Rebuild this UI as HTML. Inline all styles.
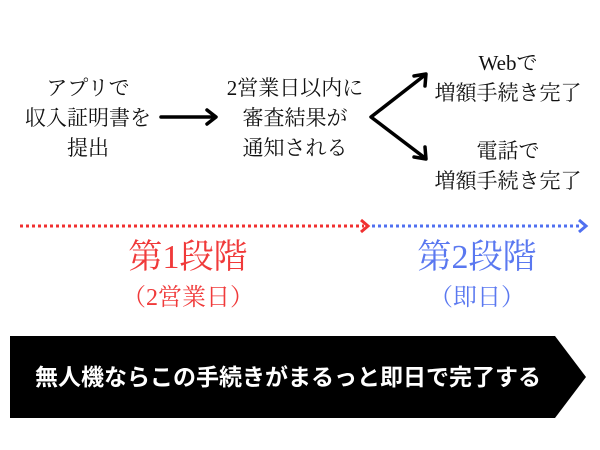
<!DOCTYPE html>
<html><head><meta charset="utf-8"><style>
body{margin:0;width:600px;height:450px;background:#fff;position:relative;overflow:hidden;font-family:"Liberation Serif","Noto Serif CJK JP","Noto Serif CJK SC",serif;}
.t{position:absolute;text-align:center;white-space:nowrap;font-size:21px;line-height:30px;color:#111;transform:translateX(-50%);}
</style></head><body>
<div class="t" style="left:88px;top:73px;">アプリで<br>収入証明書を<br>提出</div>
<div class="t" style="left:295px;top:73px;">2営業日以内に<br>審査結果が<br>通知される</div>
<div class="t" style="left:508px;top:48px;">Webで<br>増額手続き完了</div>
<div class="t" style="left:508px;top:136px;">電話で<br>増額手続き完了</div>
<svg width="600" height="450" style="position:absolute;left:0;top:0">
<g stroke="#000" stroke-width="3.5" fill="none" stroke-linecap="round" stroke-linejoin="round">
<line x1="161" y1="117" x2="215" y2="117"/><polyline points="207,110 216,117 207,124"/>
<polyline points="425,75 371,117 425,158"/>
<polyline points="414,76 426,74 425,86"/>
<polyline points="414,157 426,159 425,147"/>
</g>
<line x1="20" y1="226" x2="364" y2="226" stroke="#f03030" stroke-width="3" stroke-dasharray="3,3"/>
<polyline points="361,220 368,226 361,232" stroke="#f03030" stroke-width="3" fill="none"/>
<line x1="372" y1="226" x2="582" y2="226" stroke="#5070f0" stroke-width="3" stroke-dasharray="3,3"/>
<polyline points="579,220 586,226 579,232" stroke="#5070f0" stroke-width="3" fill="none"/>
<polygon points="10,336 555,336 586,377 555,418 10,418" fill="#000"/>
</svg>
<div class="t" style="left:188px;top:236px;font-size:34px;line-height:44px;color:#f03a3a;">第1段階</div>
<div class="t" style="left:188px;top:283px;font-size:24px;line-height:30px;color:#f03a3a;">（2営業日）</div>
<div class="t" style="left:477px;top:236px;font-size:34px;line-height:44px;color:#5a78f0;">第2段階</div>
<div class="t" style="left:477px;top:283px;font-size:24px;line-height:30px;color:#5a78f0;">（即日）</div>
<div class="t" style="left:288px;top:362px;font-size:23px;line-height:30px;color:#fff;font-weight:bold;font-family:'Liberation Sans','Noto Sans CJK JP',sans-serif;">無人機ならこの手続きがまるっと即日で完了する</div>
</body></html>
